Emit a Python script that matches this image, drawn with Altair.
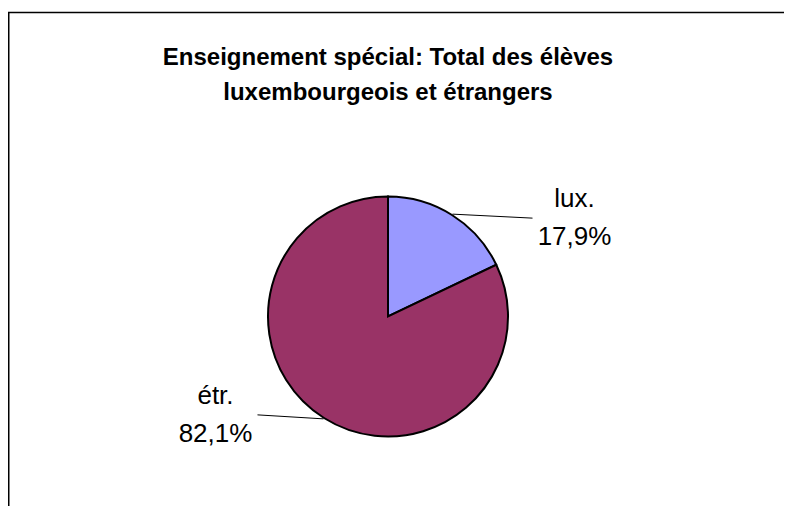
import altair as alt
import pandas as pd

# ---- data -------------------------------------------------------------
categories = ["lux.", "étr."]
values = [17.9, 82.1]
colors = ["#9999FF", "#993366"]
title_lines = ["Enseignement spécial: Total des élèves",
               "luxembourgeois et étrangers"]


def pct(v):
    return f"{v:.1f}".replace(".", ",") + "%"


df = pd.DataFrame({
    "category": categories,
    "value": values,
    "idx": list(range(len(categories))),
    "label": [f"{c}\n{pct(v)}" for c, v in zip(categories, values)],
})

# ---- layout / style ---------------------------------------------------
W, H = 776, 498
CX, CY = 380, 308.5      # pie centre inside the view (pixels)
R = 120
FONT = "Liberation Sans"
LABEL_SIZE = 26
LINE_H = 38

xscale = alt.Scale(domain=[-CX, W - CX], nice=False, zero=False)
yscale = alt.Scale(domain=[-(H - CY), CY], nice=False, zero=False)

geo = (
    alt.Chart(df)
    .transform_joinaggregate(total="sum(value)")
    .transform_window(cum="sum(value)", sort=[alt.SortField("idx")], frame=[None, 0])
    .transform_calculate(mid="(datum.cum - datum.value / 2) / datum.total * 2 * PI")
    .transform_calculate(sx=f"{R + 1} * sin(datum.mid)", sy=f"{R + 1} * cos(datum.mid)")
    .transform_calculate(side="datum.sx > 0 ? 1 : -1")
    .transform_calculate(
        ex="datum.sx + datum.side * (datum.side > 0 ? 80 : 66)",
        ey="datum.sy - datum.side * 4",
    )
    .transform_calculate(lx="datum.ex + datum.side * 42", ly=f"datum.ey + {LINE_H / 2}")
)

arc = alt.Chart(df).mark_arc(radius=R, stroke="black", strokeWidth=2).encode(
    theta=alt.Theta("value:Q", stack=True),
    color=alt.Color("category:N", scale=alt.Scale(domain=categories, range=colors), legend=None),
    order=alt.Order("idx:Q"),
    x=alt.X(datum=0, type="quantitative", scale=xscale, axis=None),
    y=alt.Y(datum=0, type="quantitative", scale=yscale, axis=None),
)

leaders = geo.mark_rule(color="black", strokeWidth=1).encode(
    x=alt.X("sx:Q", scale=xscale, axis=None),
    y=alt.Y("sy:Q", scale=yscale, axis=None),
    x2="ex:Q",
    y2="ey:Q",
)

labels = geo.mark_text(
    font=FONT, fontSize=LABEL_SIZE, lineBreak="\n", lineHeight=LINE_H,
    align="center", baseline="middle", color="black",
).encode(
    x=alt.X("lx:Q", scale=xscale, axis=None),
    y=alt.Y("ly:Q", scale=yscale, axis=None),
    text="label:N",
)

one = alt.Data(values=[{}])
title1 = alt.Chart(alt.Data(values=[{"t": title_lines[0]}])).mark_text(
    font=FONT, fontSize=24, fontWeight="bold", align="center", baseline="alphabetic", color="black"
).encode(x=alt.value(CX), y=alt.value(57), text="t:N")
title2 = alt.Chart(alt.Data(values=[{"t": title_lines[1]}])).mark_text(
    font=FONT, fontSize=24, fontWeight="bold", align="center", baseline="alphabetic", color="black"
).encode(x=alt.value(CX), y=alt.value(92), text="t:N")

border_top = alt.Chart(one).mark_rule(color="black", strokeWidth=1.5).encode(
    x=alt.value(0), x2=alt.value(W), y=alt.value(4.5)
)
border_left = alt.Chart(one).mark_rule(color="black", strokeWidth=1.5).encode(
    x=alt.value(0.75), y=alt.value(4), y2=alt.value(H)
)

chart = (
    alt.layer(arc, leaders, labels, title1, title2, border_top, border_left)
    .properties(width=W, height=H, autosize=alt.AutoSizeParams(type="none"), padding=0,
                background="white")
    .configure_view(stroke=None)
)

chart.save("out.html", embed_options={"renderer": "svg", "actions": False})
